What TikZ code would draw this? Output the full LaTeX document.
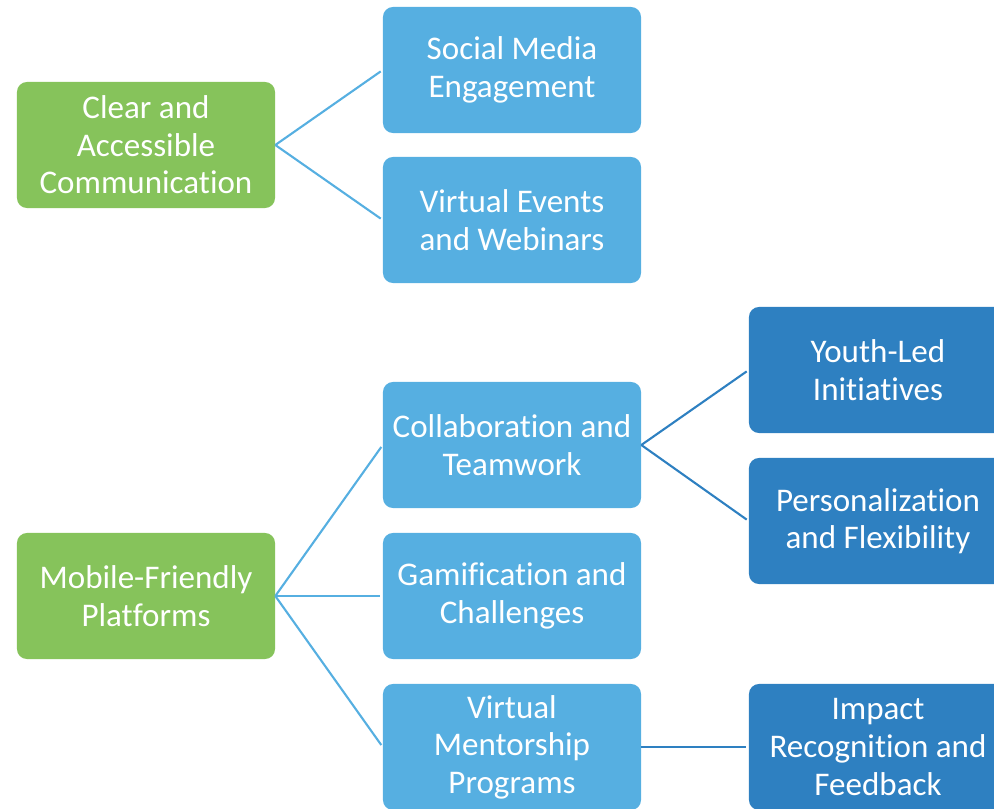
\documentclass[tikz,border=0pt]{standalone}
\usepackage{fontspec}
\setmainfont{Carlito}[Ligatures=NoCommon]
\usetikzlibrary{arrows,shapes}
\definecolor{leafgreen}{HTML}{86C35B}
\definecolor{skyblue}{HTML}{56AFE1}
\definecolor{deepblue}{HTML}{2E80C1}
\tikzstyle{topic}=[rectangle,rounded corners=0.25cm,minimum width=6.45cm,minimum height=3.15cm,inner sep=0pt,align=center,text=white,font=\fontsize{23.5}{26.7}\selectfont]
\tikzstyle{root} = [topic,fill=leafgreen]
\tikzstyle{branch} = [topic,fill=skyblue]
\tikzstyle{leaf} = [topic,fill=deepblue]
\tikzstyle{link} = [draw,line width=1.5pt,shorten >=0.06cm]

\begin{document}
\begin{tikzpicture}[x=0.025cm,y=-0.025cm]
    \clip (0,0) rectangle (994,809);
    % Left column: the two main themes
    \foreach \pos/ \name/ \txt in {{(146,145)/CAC/{Clear and\\Accessible\\Communication}},{(146,596)/MFP/{Mobile-Friendly\\Platforms}}}
        \node[root] (\name) at \pos {\txt};

    % Middle column
    \foreach \pos/ \name/ \txt in {{(512,70)/SME/{Social Media\\Engagement}},{(512,220)/VEW/{Virtual Events\\and Webinars}},{(512,445)/CT/{Collaboration and\\Teamwork}},{(512,596)/GC/{Gamification and\\Challenges}},{(512,747)/VMP/{Virtual\\Mentorship\\Programs}}}
        \node[branch] (\name) at \pos {\txt};

    % Right column
    \foreach \pos/ \name/ \txt in {{(878,370)/YLI/{Youth-Led\\Initiatives}},{(878,521)/PF/{Personalization\\and Flexibility}},{(878,747)/IRF/{Impact\\Recognition and\\Feedback}}}
        \node[leaf] (\name) at \pos {\txt};

    % Connect each topic with its sub-topics
    \foreach \source/ \dest in {CAC/SME, CAC/VEW, MFP/CT, MFP/GC, MFP/VMP}
        \path[link,skyblue] (\source.east) -- (\dest.west);

    \foreach \source/ \dest in {CT/YLI, CT/PF, VMP/IRF}
        \path[link,deepblue] (\source.east) -- (\dest.west);

\end{tikzpicture}
\end{document}
